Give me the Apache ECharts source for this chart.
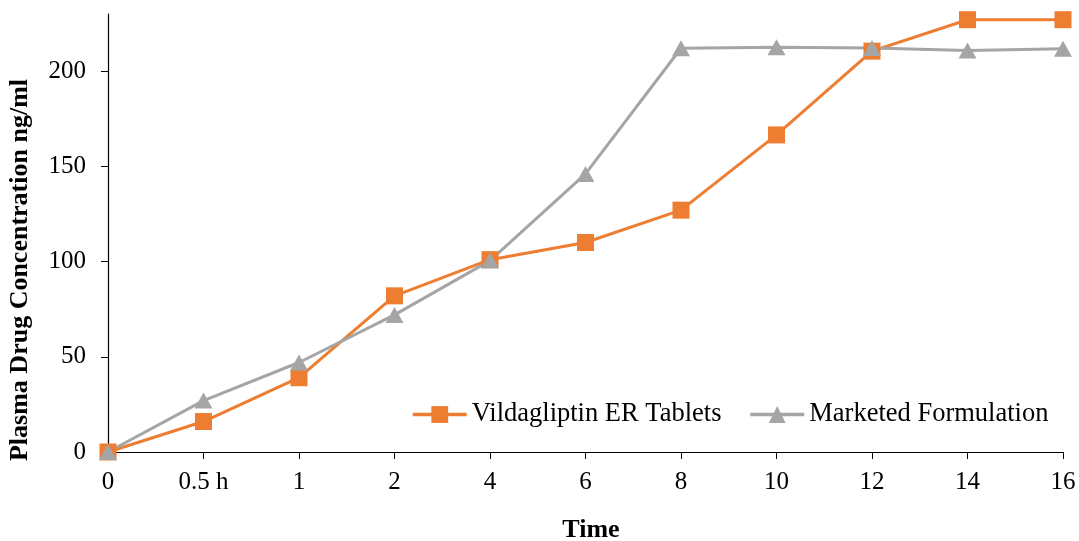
<!DOCTYPE html>
<html><head><meta charset="utf-8">
<script src="https://cdn.jsdelivr.net/npm/echarts@6/dist/echarts.min.js"></script>
<style>html,body{margin:0;padding:0;background:#fff}#c{width:1079px;height:541px}</style>
</head><body><div id="c"></div>
<script>
const categories = ['0','0.5 h','1','2','4','6','8','10','12','14','16'];
const vildagliptin = [0,16,39,82,101,110,127,166.5,210.5,227,227];
const marketed = [0,27,47,72,100.5,146,212,212.6,212.2,210.8,211.8];
const yTicks = [0,50,100,150,200];
const font = 'Liberation Serif';
const chart = echarts.init(document.getElementById('c'));
chart.setOption({
  animation:false,
  backgroundColor:'#fff',
  textStyle:{fontFamily:font},
  grid:{left:108,right:16,top:14,bottom:89,containLabel:false,outerBoundsMode:'none'},
  legend:{
    left:411, top:401, padding:0, itemWidth:54, itemHeight:21, itemGap:27,
    lineStyle:{width:3.5},
    textStyle:{fontFamily:font,fontSize:26.5,color:'#000'},
    data:['Vildagliptin ER Tablets','Marketed Formulation']
  },
  xAxis:{
    type:'category', data:categories, boundaryGap:false,
    name:'Time', nameLocation:'middle', nameGap:65,
    nameTextStyle:{fontFamily:font,fontSize:26,fontWeight:'bold',color:'#000',padding:[0,0,0,11]},
    axisLine:{lineStyle:{color:'#000',width:1.2}},
    axisTick:{show:true,length:7,alignWithLabel:true,lineStyle:{color:'#000'}},
    axisLabel:{fontFamily:font,fontSize:25,color:'#000',margin:18},
    splitLine:{show:false}
  },
  yAxis:{
    type:'value', min:0, max:230, interval:50,
    name:'Plasma Drug Concentration ng/ml', nameLocation:'middle', nameGap:75,
    nameTextStyle:{fontFamily:font,fontSize:26,fontWeight:'bold',color:'#000',padding:[0,74,0,0]},
    axisLine:{show:true,lineStyle:{color:'#000',width:1.2}},
    axisTick:{show:true,length:7,customValues:yTicks,lineStyle:{color:'#000'}},
    axisLabel:{fontFamily:font,fontSize:25,color:'#000',margin:22,customValues:yTicks},
    splitLine:{show:false}
  },
  series:[
    {name:'Vildagliptin ER Tablets', type:'line', data:vildagliptin,
     symbol:'rect', symbolSize:17,
     itemStyle:{color:'#ED7D31'}, lineStyle:{color:'#ED7D31',width:3}},
    {name:'Marketed Formulation', type:'line', data:marketed,
     symbol:'triangle', symbolSize:[18,16],
     itemStyle:{color:'#A5A5A5'}, lineStyle:{color:'#A5A5A5',width:3}}
  ]
});
</script></body></html>
